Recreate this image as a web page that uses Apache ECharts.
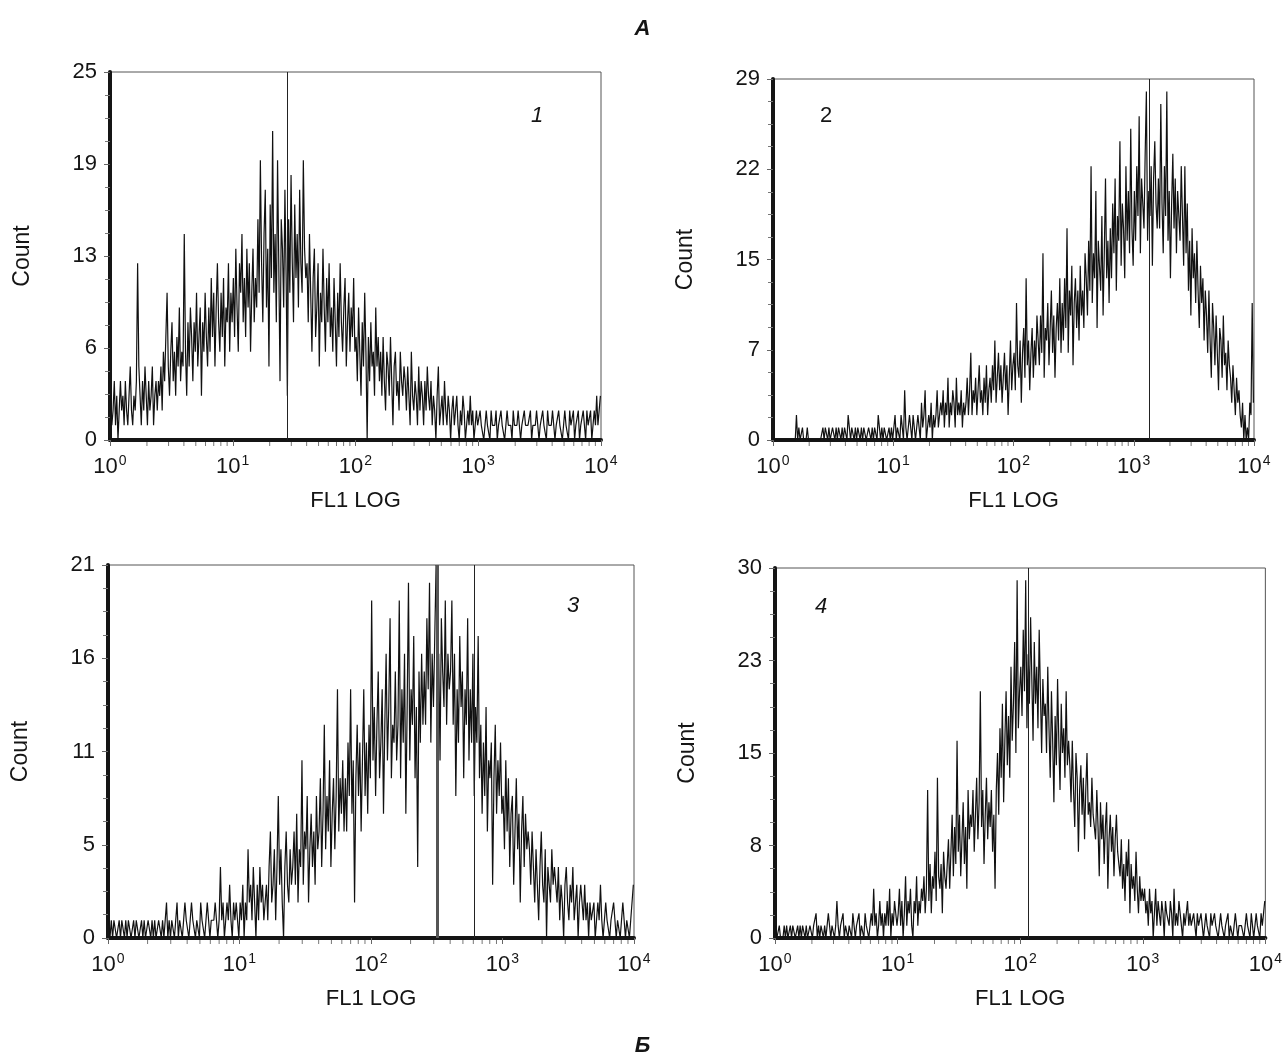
<!DOCTYPE html>
<html>
<head>
<meta charset="utf-8">
<script src="https://cdn.jsdelivr.net/npm/echarts@6/dist/echarts.min.js"></script>
<style>
html,body{margin:0;padding:0;background:#fff;}
#chart{width:1285px;height:1059px;}
</style>
</head>
<body>
<div id="chart"></div>
<script>
// ---- Data: histogram counts, 400 log-spaced channels per panel (100 per decade, 10^0..10^4) ----
const counts1 = [
  3,1,2,4,1,3,0,2,4,2,3,1,4,2,1,3,5,2,1,3,
  2,4,12,5,3,1,4,2,5,3,1,4,2,3,5,1,3,4,2,4,
  3,5,2,6,4,7,10,5,3,6,8,4,6,3,7,5,9,4,6,5,
  14,6,3,8,5,9,7,4,8,6,10,5,7,9,3,8,6,10,7,5,
  9,6,11,7,10,5,9,12,8,6,10,7,11,5,9,8,12,6,10,8,
  11,7,13,9,6,12,10,14,8,11,7,13,9,12,6,10,13,8,11,9,
  15,10,19,12,8,14,17,9,13,5,16,11,21,10,14,8,19,12,4,15,
  13,9,17,11,3,15,10,18,12,8,16,11,14,9,17,12,10,19,13,11,
  12,8,14,10,6,11,13,7,9,12,5,10,8,13,9,6,11,8,12,7,
  9,6,11,8,5,10,7,12,8,6,9,11,5,8,10,6,9,7,11,6,
  7,4,9,6,3,8,5,10,6,0,7,4,8,5,6,3,9,5,7,4,
  6,3,7,4,2,6,5,3,7,4,1,5,6,3,4,2,6,4,3,5,
  4,2,5,3,1,6,3,2,4,3,1,5,2,4,3,1,4,2,5,3,
  2,4,1,3,2,0,3,5,1,2,3,1,4,2,1,3,2,0,2,3,
  1,2,3,1,0,2,1,3,2,0,1,2,1,3,1,2,0,1,2,1,
  1,2,1,1,0,1,2,1,1,0,2,1,1,1,2,0,1,1,2,1,
  1,0,1,2,1,1,1,0,2,1,1,1,2,1,0,1,1,2,1,1,
  1,1,2,0,1,1,1,2,1,0,1,1,2,1,1,0,2,1,1,1,
  2,1,0,1,1,2,1,1,0,1,2,1,1,0,2,1,1,2,0,1,
  1,2,0,1,1,2,1,0,2,1,1,2,0,1,2,1,3,1,2,3
];
const counts2 = [
  0,0,0,0,0,0,0,0,0,0,0,0,0,0,0,0,0,0,0,2,
  0,1,0,0,1,0,0,0,1,0,0,0,0,0,0,0,0,0,0,0,
  0,1,0,1,1,0,1,0,0,1,1,0,1,0,1,1,0,1,0,1,
  1,0,2,1,0,1,1,0,1,0,1,1,0,1,0,1,1,0,0,1,
  1,0,1,0,1,1,0,2,1,0,1,0,1,1,0,0,1,0,1,0,
  1,2,0,1,1,0,2,1,0,4,1,0,1,2,1,0,2,1,0,1,
  2,1,0,3,1,2,4,0,1,2,1,3,0,2,1,2,4,1,2,3,
  2,4,1,3,2,5,1,3,2,4,3,1,5,2,3,2,4,1,3,2,
  3,5,2,4,7,2,4,3,5,2,4,6,3,4,2,5,3,6,2,4,
  5,3,6,4,8,3,5,7,4,6,3,5,7,4,6,2,5,8,4,6,
  7,4,11,6,5,8,3,7,9,5,13,6,8,4,7,9,5,8,6,10,
  8,6,10,7,15,5,9,8,11,6,9,12,7,10,5,9,11,8,13,7,
  11,8,13,9,17,7,12,10,14,6,11,13,9,12,8,14,10,12,9,15,
  13,10,16,12,22,11,15,13,20,9,16,14,12,18,10,15,21,13,16,11,
  17,13,19,15,21,12,18,16,24,14,19,17,13,22,16,20,15,25,17,14,
  20,16,22,18,26,15,21,19,17,23,28,16,20,18,22,14,21,24,19,17,
  21,17,27,19,15,22,18,28,16,20,13,19,23,17,21,15,20,18,16,22,
  18,14,22,15,19,12,16,10,17,13,15,11,16,12,9,14,11,13,8,12,
  10,7,12,8,5,11,9,6,10,7,4,9,8,5,10,6,7,4,8,6,
  5,3,6,4,2,5,3,4,2,1,3,0,2,0,1,0,3,2,11,3
];
const counts3 = [
  1,0,1,0,1,1,0,0,1,0,1,1,0,1,0,1,1,0,0,1,
  0,1,1,0,0,1,0,1,0,0,1,1,0,1,0,1,0,0,1,1,
  0,1,0,1,2,0,1,0,1,1,0,1,2,0,1,1,0,1,2,1,
  1,0,1,2,1,1,0,1,1,0,2,1,1,0,1,2,1,0,1,1,
  1,2,1,0,1,4,1,2,0,1,2,1,3,1,0,2,1,2,1,0,
  2,1,3,0,2,1,5,2,3,1,4,2,0,3,1,4,2,3,1,2,
  3,1,4,6,2,3,5,1,4,8,3,5,2,0,4,6,3,2,5,3,
  4,6,3,7,2,5,4,10,3,6,5,8,2,5,7,4,6,3,8,5,
  6,9,4,7,12,5,8,6,10,4,7,9,5,8,14,6,9,7,10,6,
  9,6,11,8,14,7,10,2,9,12,8,11,6,10,14,8,11,7,12,9,
  19,10,13,8,12,15,9,11,14,7,12,16,10,13,18,9,12,11,15,10,
  12,19,9,14,11,16,7,13,20,10,14,12,17,9,13,4,15,11,16,12,
  15,12,18,14,20,11,16,13,17,21,14,16,10,18,15,13,19,12,16,14,
  15,19,12,16,8,14,11,17,13,15,9,14,12,18,10,14,11,16,8,13,
  11,17,9,12,7,11,8,13,6,10,9,11,3,9,12,7,10,8,11,7,
  8,5,10,6,9,4,7,8,3,6,9,5,7,2,6,8,4,7,5,6,
  5,3,6,4,2,5,3,1,4,6,3,2,5,0,4,3,2,5,3,4,
  3,2,4,1,3,2,0,3,4,2,1,3,2,4,1,2,3,0,2,3,
  2,1,3,1,2,0,2,1,1,2,0,1,2,1,3,1,0,1,2,1,
  1,0,1,1,2,1,0,1,1,0,1,2,1,0,1,1,0,1,1,3
];
const counts4 = [
  1,0,0,1,0,0,0,1,0,1,0,0,1,0,1,1,0,0,1,0,
  1,0,1,1,0,1,0,0,1,1,0,1,1,2,0,1,0,1,1,0,
  1,0,1,2,1,0,1,1,0,1,3,1,0,1,1,2,0,1,1,0,
  1,1,0,2,1,0,1,1,2,0,1,1,0,2,1,1,0,1,2,1,
  4,1,2,0,1,3,1,2,0,2,1,3,1,4,0,2,1,3,2,1,
  2,4,1,3,0,2,5,1,3,2,4,1,0,3,2,5,1,3,2,4,
  3,5,2,4,12,3,6,2,5,4,7,3,13,5,4,6,2,7,5,4,
  6,8,4,7,10,5,9,6,16,7,10,5,8,11,6,9,4,12,8,10,
  9,12,7,10,13,8,11,20,9,12,6,10,13,8,11,9,12,7,10,4,
  12,15,10,17,13,19,11,16,20,14,18,13,22,16,19,24,15,29,17,20,
  22,18,25,20,29,17,23,19,26,21,16,24,19,22,17,25,20,15,21,18,
  19,15,22,17,13,20,16,11,18,14,21,16,12,19,15,17,13,20,14,16,
  14,11,16,12,9,15,13,7,12,14,10,13,8,12,15,10,11,9,13,10,
  10,8,12,9,5,11,8,10,6,9,11,4,8,10,7,9,5,8,10,7,
  7,5,8,4,6,3,7,5,8,2,6,4,5,3,7,4,2,5,3,4,
  3,4,2,3,1,4,2,3,0,2,4,1,3,2,1,3,2,0,3,2,
  2,1,3,2,0,4,1,2,1,3,2,1,0,2,1,2,3,1,2,1,
  1,2,1,0,2,1,1,2,1,0,1,2,1,1,0,2,1,1,2,1,
  1,0,1,2,1,1,0,1,1,2,0,1,1,0,1,2,1,0,1,1,
  1,1,0,1,2,1,1,0,2,1,0,1,2,1,1,0,2,1,2,3
];
// y-axis maxima (labels are rounded quarters)
const yMax = [25, 29, 21, 30];
// cursor marker positions (FL1 values)
const markers1 = [27.7];
const markers2 = [1340];
const markers3 = [318, 607];
const markers4 = [116];
const panelLabels = ['1', '2', '3', '4'];
const xName = 'FL1 LOG';
const yName = 'Count';
const titleTop = 'А';
const titleBottom = 'Б';

// ---- build ----
const FONT = '"Liberation Sans", Arial, sans-serif';
const TXT = '#151515';
const DECADES = 4;
function toSeriesData(arr) {
  const n = arr.length;
  return arr.map((c, i) => [Math.pow(10, DECADES * (i + 0.5) / n), c]);
}
const minorVals = [];
for (let d = 0; d < DECADES; d++) for (let k = 2; k <= 9; k++) minorVals.push([k * Math.pow(10, d), 0]);

const grids = [
  {left: 110, top: 72, width: 491, height: 368},
  {left: 773, top: 79, width: 481, height: 361},
  {left: 108, top: 565, width: 526, height: 373},
  {left: 775, top: 568, width: 502, height: 370}
];
const allCounts = [counts1, counts2, counts3, counts4];
const allMarkers = [markers1, markers2, markers3, markers4];
const markerStyles = [
  [{w: 1, c: '#222'}],
  [{w: 1, c: '#222'}],
  [{w: 3, c: '#555'}, {w: 1, c: '#222'}],
  [{w: 1, c: '#222'}]
];

const option = {
  animation: false,
  backgroundColor: '#fff',
  textStyle: {fontFamily: FONT},
  grid: grids.map(g => Object.assign({show: true, borderColor: '#555', borderWidth: 1, backgroundColor: 'transparent'}, g)),
  xAxis: grids.map((g, i) => ({
    gridIndex: i, type: 'log', logBase: 10, min: 1, max: 10000,
    name: xName, nameLocation: 'middle', nameGap: 50,
    nameTextStyle: {fontSize: 22, color: TXT, fontFamily: FONT},
    axisLine: {show: true, onZero: false, lineStyle: {color: '#151515', width: 4}},
    axisTick: {show: true, length: 6, lineStyle: {color: '#666', width: 1}},
    minorTick: {show: false},
    splitLine: {show: false},
    axisLabel: {
      margin: 14, color: TXT,
      formatter: v => '{b|10}{s|' + Math.round(Math.log10(v)) + '}',
      rich: {
        b: {fontSize: 22, fontFamily: FONT, color: TXT},
        s: {fontSize: 14, fontFamily: FONT, color: TXT, padding: [0, 0, 11, 1]}
      }
    }
  })),
  yAxis: grids.map((g, i) => ({
    gridIndex: i, type: 'value', min: 0, max: yMax[i], interval: yMax[i] / 4,
    name: yName, nameLocation: 'middle', nameGap: 76, nameRotate: 90,
    nameTextStyle: {fontSize: 23, color: TXT, fontFamily: FONT},
    axisLine: {show: true, lineStyle: {color: '#151515', width: 4}},
    axisTick: {show: true, length: 6, lineStyle: {color: '#666', width: 1}},
    minorTick: {show: true, splitNumber: 4, length: 5, lineStyle: {color: '#777', width: 1}},
    splitLine: {show: false},
    minorSplitLine: {show: false},
    axisLabel: {
      margin: 13, fontSize: 22, color: TXT, fontFamily: FONT,
      formatter: v => String(Math.round(v))
    }
  })),
  series: [],
  graphic: [
    {type: 'text', left: 'center', top: 18, style: {text: titleTop, font: 'italic bold 22px ' + FONT, fill: TXT}},
    {type: 'text', left: 'center', top: 1035, style: {text: titleBottom, font: 'italic bold 22px ' + FONT, fill: TXT}}
  ]
};

const labelPos = [[537, 116, true], [826, 116, false], [573, 606, true], [821, 607, true]];

allCounts.forEach((arr, i) => {
  option.series.push({
    type: 'line', xAxisIndex: i, yAxisIndex: i,
    data: toSeriesData(arr),
    showSymbol: false, symbol: 'none',
    lineStyle: {color: '#111', width: 1.2},
    z: 3,
    markLine: {
      silent: true, symbol: ['none', 'none'], label: {show: false},
      data: allMarkers[i].map((m, j) => ({
        xAxis: m,
        lineStyle: {type: 'solid', color: markerStyles[i][j].c, width: markerStyles[i][j].w}
      }))
    }
  });
  option.series.push({
    type: 'custom', xAxisIndex: i, yAxisIndex: i, clip: false, silent: true, z: 5,
    data: minorVals,
    renderItem: (params, api) => {
      const p = api.coord([api.value(0), 0]);
      return {type: 'line', shape: {x1: p[0], y1: p[1] + 2, x2: p[0], y2: p[1] + 6},
              style: {stroke: '#777', lineWidth: 1}};
    }
  });
  const lp = labelPos[i];
  option.graphic.push({
    type: 'text', x: lp[0], y: lp[1],
    style: {text: panelLabels[i], font: (lp[2] ? 'italic ' : '') + '22px ' + FONT, fill: TXT,
            textAlign: 'center', textVerticalAlign: 'middle'}
  });
});

const chart = echarts.init(document.getElementById('chart'), null, {renderer: 'canvas'});
chart.setOption(option);
</script>
</body>
</html>
